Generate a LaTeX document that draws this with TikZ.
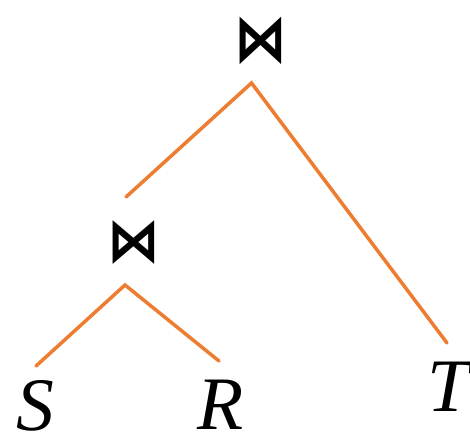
\documentclass[tikz,border=0pt]{standalone}
\usepackage{fontspec}
\setmainfont{Liberation Serif}
\newfontfamily\joinfont{DejaVu Sans}
\definecolor{edgeorange}{HTML}{ED7D31}
\begin{document}
\begin{tikzpicture}[x=0.02cm,y=-0.02cm,
  edge/.style={draw=edgeorange,line width=2pt,line cap=round},
  joinop/.style={inner sep=0pt,font=\joinfont\bfseries\fontsize{30}{30}\selectfont},
  leaf/.style={inner sep=0pt,font=\itshape\fontsize{43}{43}\selectfont}]
  \useasboundingbox (0,0) rectangle (470,439);
  % 连接运算
  \node[joinop] (j1) at (261,41) {\scalebox{1}[1.25]{⋈}};
  \node[joinop] (j2) at (134,243) {\scalebox{1}[1.15]{⋈}};
  % 关系
  \node[leaf] (s) at (35,406) {S};
  \node[leaf] (r) at (221,405) {R};
  \node[leaf] (t) at (449,387) {T};
  % 边的端点
  \coordinate (j1b) at (251.5,83);
  \coordinate (j1l) at (126,197);
  \coordinate (j1r) at (447,343);
  \coordinate (j2b) at (125,285);
  \coordinate (j2l) at (36,366);
  \coordinate (j2r) at (219,361);
  % 边
  \draw[edge] (j1l) -- (j1b) -- (j1r);
  \draw[edge] (j2l) -- (j2b) -- (j2r);
\end{tikzpicture}
\end{document}
